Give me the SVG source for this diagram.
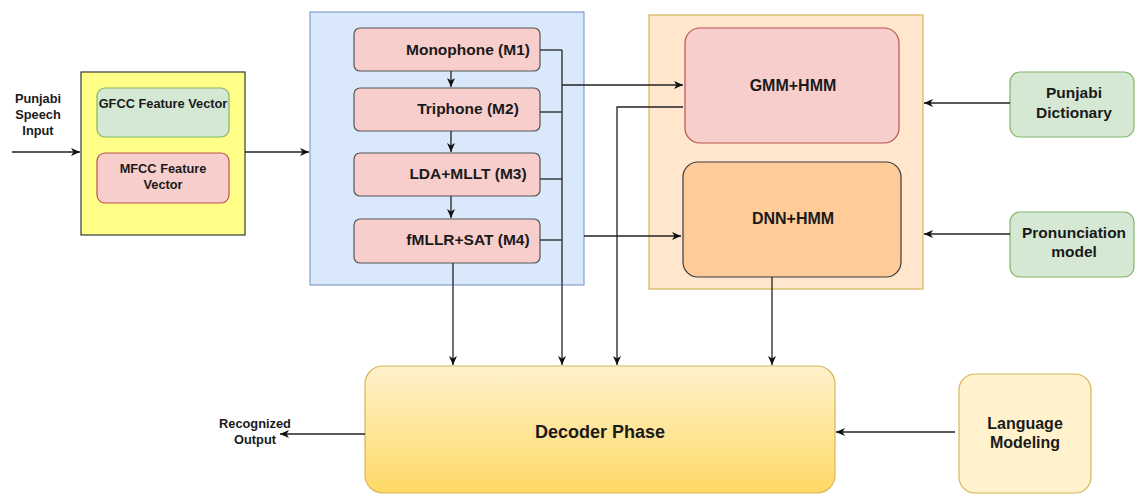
<svg xmlns="http://www.w3.org/2000/svg" width="1135" height="495" viewBox="0 0 1135 495">
  <defs>
    <marker id="arrow" markerWidth="10" markerHeight="8" refX="9" refY="4" orient="auto" markerUnits="userSpaceOnUse">
      <path d="M0,0 L9,4 L0,8 L2.5,4 z" fill="#111"/>
    </marker>
    <linearGradient id="decoderFill" x1="0" y1="0" x2="0" y2="1">
      <stop offset="0" stop-color="#fff2cc"/>
      <stop offset="1" stop-color="#ffd966"/>
    </linearGradient>
    <style>
      text { font-family: "Liberation Sans", Arial, sans-serif; font-weight: bold; fill: #1a1a1a; text-anchor: middle; }
      .small { font-size: 12.8px; }
      .mid { font-size: 15.5px; }
      .big { font-size: 16px; }
      .step { fill: #f8cecc; stroke: #555; stroke-width: 1.2; }
      .green { fill: #d5e8d4; stroke: #82b366; stroke-width: 1.2; }
      .wire { fill: none; stroke: #222; stroke-width: 1.3; }
      .arr { fill: none; stroke: #222; stroke-width: 1.3; marker-end: url(#arrow); }
    </style>
  </defs>
  <rect width="1135" height="495" fill="#ffffff"/>

  <!-- input label -->
  <g id="speech-input">
    <text class="small" x="38" y="102.5">Punjabi</text>
    <text class="small" x="38" y="118.5">Speech</text>
    <text class="small" x="38" y="134.5">Input</text>
  </g>

  <!-- feature extraction -->
  <g id="features">
    <rect x="81" y="72" width="164" height="163" fill="#ffff88" stroke="#36393d" stroke-width="1.2"/>
  </g>
  <g id="gfcc">
    <rect class="green" x="97" y="88" width="132" height="49" rx="8"/>
    <text class="small" x="163" y="107.5">GFCC Feature Vector</text>
  </g>
  <g id="mfcc">
    <rect x="97" y="153" width="132" height="50" rx="8" fill="#f8cecc" stroke="#b85450" stroke-width="1.2"/>
    <text class="small" x="163" y="172.5">MFCC Feature</text>
    <text class="small" x="163" y="188.5">Vector</text>
  </g>

  <!-- acoustic model training stages -->
  <g id="training">
    <rect x="310" y="12" width="274" height="273" fill="#dae8fc" stroke="#6c8ebf" stroke-width="1"/>
  </g>
  <g id="m1">
    <rect class="step" x="354" y="28" width="186" height="43" rx="6"/>
    <text class="mid" x="468" y="54.5">Monophone (M1)</text>
  </g>
  <g id="m2">
    <rect class="step" x="354" y="88" width="186" height="43" rx="6"/>
    <text class="mid" x="468" y="113.5">Triphone (M2)</text>
  </g>
  <g id="m3">
    <rect class="step" x="354" y="153" width="186" height="43" rx="6"/>
    <text class="mid" x="468" y="178.5">LDA+MLLT (M3)</text>
  </g>
  <g id="m4">
    <rect class="step" x="354" y="219" width="186" height="44" rx="6"/>
    <text class="mid" x="468" y="244.5">fMLLR+SAT (M4)</text>
  </g>

  <!-- acoustic models -->
  <g id="models">
    <rect x="649" y="15" width="274" height="274" fill="#ffe6cc" stroke="#d6b656" stroke-width="1.2"/>
  </g>
  <g id="gmm-hmm">
    <rect x="685" y="28" width="214" height="115" rx="15" fill="#f8cecc" stroke="#b85450" stroke-width="1.2"/>
    <text class="big" x="793" y="91">GMM+HMM</text>
  </g>
  <g id="dnn-hmm">
    <rect x="683" y="162" width="218" height="115" rx="15" fill="#ffcc99" stroke="#36393d" stroke-width="1.2"/>
    <text class="big" x="793" y="224">DNN+HMM</text>
  </g>

  <!-- lexicon inputs -->
  <g id="dictionary">
    <rect class="green" x="1010" y="72" width="124" height="65" rx="10"/>
    <text class="mid" x="1074" y="98">Punjabi</text>
    <text class="mid" x="1074" y="118">Dictionary</text>
  </g>
  <g id="pronunciation">
    <rect class="green" x="1010" y="212" width="124" height="65" rx="10"/>
    <text class="mid" x="1074" y="238">Pronunciation</text>
    <text class="mid" x="1074" y="257">model</text>
  </g>

  <!-- decoding -->
  <g id="decoder">
    <rect x="365" y="366" width="470" height="127" rx="18" fill="url(#decoderFill)" stroke="#d6b656" stroke-width="1.2"/>
    <text x="600" y="438" style="font-size:18px">Decoder Phase</text>
  </g>
  <g id="language-model">
    <rect x="959" y="374" width="132" height="119" rx="16" fill="#fff2cc" stroke="#d6b656" stroke-width="1.2"/>
    <text class="big" x="1025" y="428.5">Language</text>
    <text class="big" x="1025" y="447.5">Modeling</text>
  </g>
  <g id="output">
    <text class="small" x="255" y="427.5">Recognized</text>
    <text class="small" x="255" y="443.5">Output</text>
  </g>

  <g id="connectors">
    <!-- input and feature flow -->
    <line class="arr" x1="12" y1="152" x2="80" y2="152"/>
    <line class="arr" x1="245" y1="152" x2="309" y2="152"/>
    <!-- stage chain -->
    <line class="arr" x1="451" y1="71" x2="451" y2="87"/>
    <line class="arr" x1="451" y1="131" x2="451" y2="152"/>
    <line class="arr" x1="451" y1="196" x2="451" y2="218"/>
    <!-- stage outputs onto the bus -->
    <polyline class="wire" points="540,50 562,50"/>
    <polyline class="wire" points="540,112 562,112"/>
    <polyline class="wire" points="540,179 562,179"/>
    <polyline class="wire" points="540,240 562,240"/>
    <line class="arr" x1="562" y1="50" x2="562" y2="365"/>
    <line class="arr" x1="562" y1="85" x2="683" y2="85"/>
    <line class="arr" x1="584" y1="236" x2="681" y2="236"/>
    <line class="arr" x1="453" y1="263" x2="453" y2="365"/>
    <!-- model outputs to decoder -->
    <polyline class="arr" points="683,107 617,107 617,365"/>
    <line class="arr" x1="772" y1="277" x2="772" y2="365"/>
    <!-- lexicon into models -->
    <line class="arr" x1="1010" y1="103" x2="924" y2="103"/>
    <line class="arr" x1="1010" y1="234" x2="924" y2="234"/>
    <!-- language model and result -->
    <line class="arr" x1="955" y1="432" x2="836" y2="432"/>
    <line class="arr" x1="365" y1="434" x2="280" y2="434"/>
  </g>
</svg>
